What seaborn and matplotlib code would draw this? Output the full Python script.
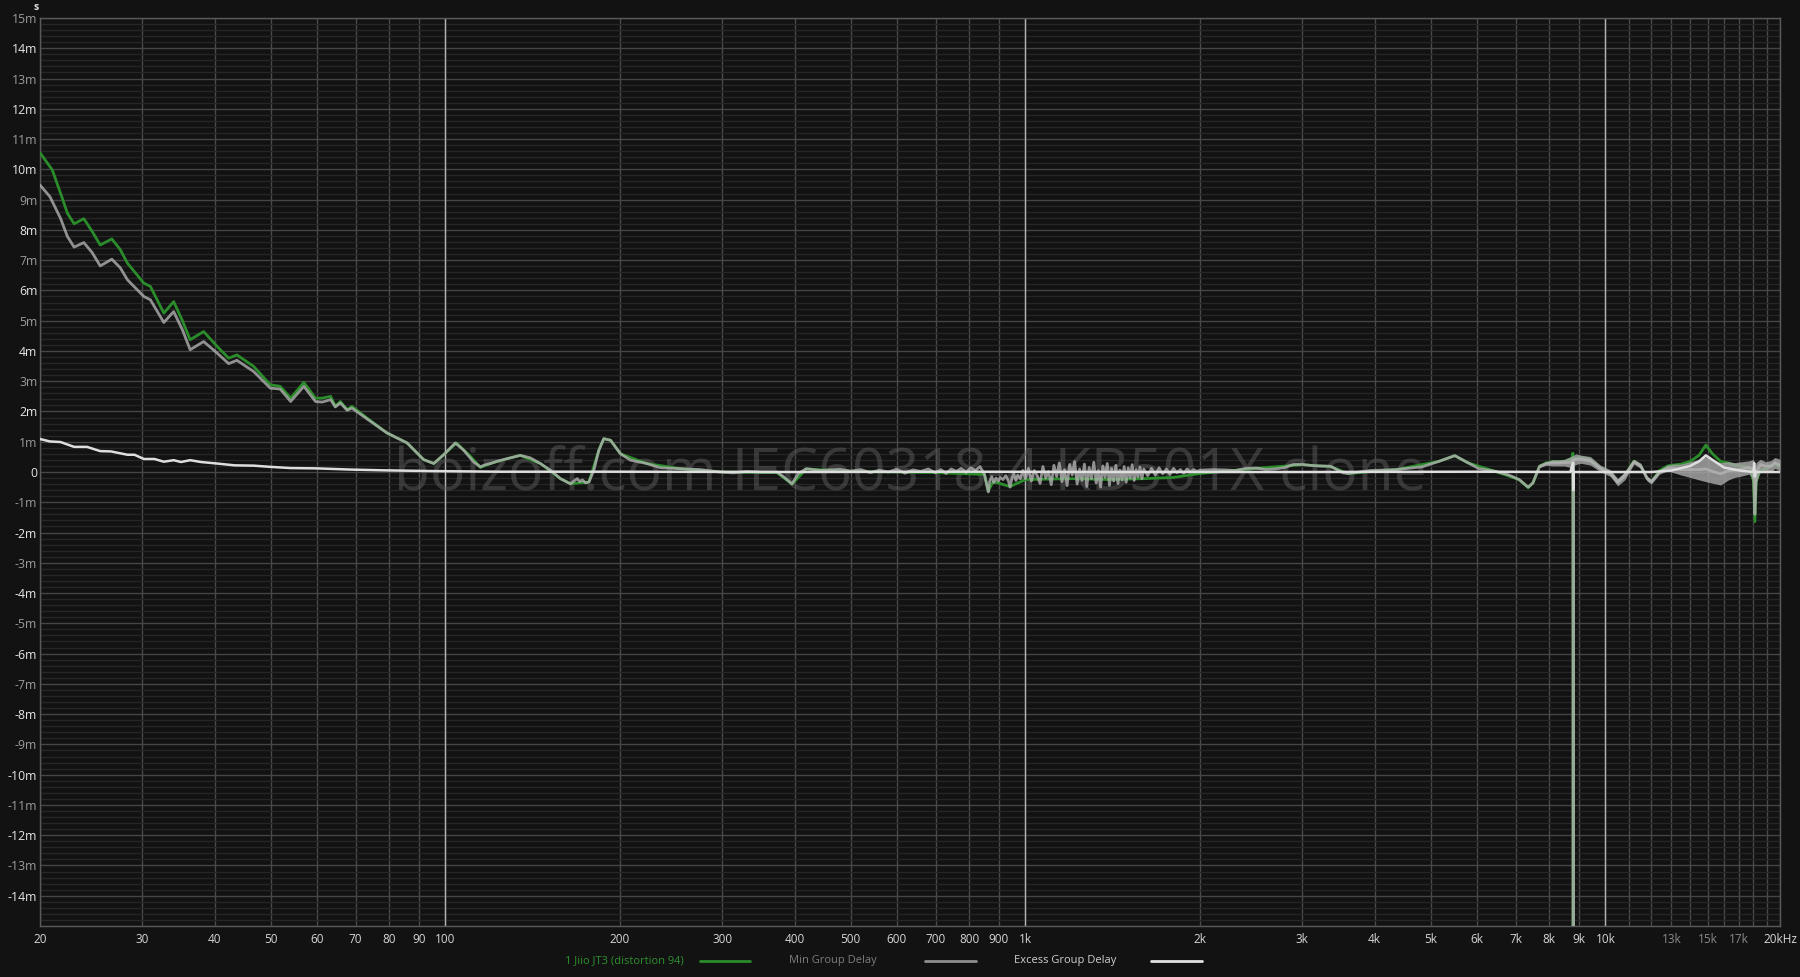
import matplotlib
matplotlib.use("Agg")
import matplotlib.pyplot as plt
from matplotlib.lines import Line2D
from matplotlib.ticker import NullFormatter, FixedLocator
import numpy as np
import pandas as pd
import seaborn as sns

# ---------------- data (values in milliseconds, frequency in Hz) ----------------
# total group delay (green), "1 Jiio JT3 (distortion 94)"
gd_freq_low = [20, 21.0, 21.7, 22.3, 22.9, 23.8, 24.6, 25.4, 26.6, 27.5,
               28.3, 30.2, 31.0, 32.7, 34.0, 35.2, 36.3, 38.3, 40.4, 42.3,
               43.7, 46.7, 49.9, 51.9, 54.1, 57.0, 59.7, 61.3, 63.4, 64.6,
               65.9, 67.7, 69.0, 73.3, 79.3, 85.9, 91.7, 95.5, 99.3, 104.5]
gd_ms_low = [10.55, 9.98, 9.21, 8.55, 8.20, 8.37, 7.95, 7.50, 7.70, 7.35,
             6.90, 6.24, 6.13, 5.25, 5.63, 5.00, 4.37, 4.64, 4.15, 3.76,
             3.87, 3.49, 2.88, 2.83, 2.44, 2.96, 2.44, 2.44, 2.50, 2.17,
             2.33, 2.06, 2.17, 1.78, 1.29, 0.96, 0.41, 0.28, 0.57, 0.96]
gd_freq_mid = [110.4, 114.9, 119.6, 127.8, 134.6, 145.8, 157.9, 164.3, 176.8, 183.9,
               187.5, 192.6, 200.4, 222.4, 254.2, 297.8, 373, 396, 419, 500,
               700, 850, 863, 880, 941, 1000, 1200, 1400, 1600, 1800,
               2000, 2500, 3000, 3357, 3600, 4360, 5160, 5500, 5800, 6460,
               7100, 7360, 7500]
gd_ms_mid = [0.52, 0.15, 0.28, 0.44, 0.55, 0.28, -0.22, -0.39, -0.33, 0.72,
             1.10, 1.05, 0.60, 0.28, 0.11, 0.00, -0.02, -0.40, 0.10, 0.02,
             -0.02, -0.08, -0.62, -0.32, -0.48, -0.25, -0.22, -0.25, -0.22, -0.18,
             -0.05, 0.12, 0.24, 0.18, -0.05, 0.08, 0.35, 0.54, 0.30, 0.02,
             -0.25, -0.52, -0.36]
gd_freq_high = [7700, 7900, 8100, 8500, 8750, 8790, 8800, 8812, 8900, 9060,
                9420, 9800, 10200, 10500, 10800, 11200, 11500, 11800, 12000, 12400,
                12800, 13100, 13500, 14000, 14500, 14900, 15300, 15800, 16300, 16700,
                17200, 17700, 18000, 18100, 18200, 18500, 18900, 19300, 19600, 20000]
gd_ms_high = [0.19, 0.30, 0.35, 0.35, 0.45, 0.62, -16.0, 0.45, 0.45, 0.48,
              0.42, 0.14, -0.02, -0.35, -0.10, 0.36, 0.22, -0.20, -0.33, 0.05,
              0.20, 0.23, 0.26, 0.35, 0.55, 0.89, 0.60, 0.35, 0.30, 0.22,
              0.20, 0.15, -0.30, -1.64, -0.30, 0.05, 0.10, 0.20, 0.30, 0.15]

# minimum-phase group delay (grey)
min_freq_low = [20, 20.8, 21.7, 22.3, 22.9, 23.8, 24.6, 25.4, 26.6, 27.5,
                28.3, 30.2, 31.0, 32.7, 34.0, 35.2, 36.3, 38.3, 40.4, 42.3,
                43.7, 46.7, 49.9, 51.9, 54.1, 57.0, 59.7, 61.3, 63.4, 64.6,
                65.9, 67.7, 69.0, 73.3]
min_ms_low = [9.48, 9.10, 8.38, 7.78, 7.43, 7.58, 7.25, 6.81, 7.03, 6.75,
              6.35, 5.80, 5.69, 4.94, 5.30, 4.70, 4.04, 4.31, 3.93, 3.58,
              3.69, 3.32, 2.77, 2.74, 2.33, 2.83, 2.33, 2.31, 2.39, 2.15,
              2.28, 2.04, 2.11, 1.75]
min_freq_mid = [79.3, 85.9, 91.7, 95.5, 99.3, 104.0, 107.5, 111.9, 114.9, 117,
                119.6, 123, 127.8, 134.6, 140.0, 145.8, 151.7, 157.9, 164.3, 166.5,
                168.8, 170.5, 172.2, 174.5, 176.8, 180.3, 183.9, 187.5, 192.6, 200.4,
                208.5, 222.4, 234.8, 254.2, 275.1, 297.8, 314, 330, 349, 373,
                383, 396, 406, 419, 442, 478, 500, 520, 540]
min_ms_mid = [1.29, 0.96, 0.41, 0.28, 0.57, 0.96, 0.72, 0.33, 0.17, 0.24,
              0.28, 0.36, 0.44, 0.55, 0.47, 0.28, 0.06, -0.22, -0.39, -0.30,
              -0.22, -0.32, -0.26, -0.36, -0.33, 0.06, 0.72, 1.10, 1.05, 0.60,
              0.39, 0.28, 0.14, 0.11, 0.08, 0.00, -0.03, 0.02, 0.00, 0.00,
              -0.16, -0.39, -0.05, 0.11, 0.05, 0.09, 0.03, 0.08, -0.02]
min_freq_n1 = [560, 580, 600, 620, 640, 660, 680, 700, 715, 730,
               745, 760, 775, 790, 805, 820, 835, 850, 858, 863,
               868, 875, 882, 890, 898, 905, 915, 925, 935, 941,
               948, 955, 963, 970, 980, 990]
min_ms_n1 = [0.06, 0.00, 0.09, -0.04, 0.07, 0.02, 0.10, -0.03, 0.08, -0.05,
             0.10, 0.02, 0.12, -0.02, 0.14, 0.05, 0.18, -0.08, -0.45, -0.66,
             -0.30, -0.15, -0.35, -0.20, -0.30, -0.18, -0.25, -0.12, -0.30, -0.50,
             -0.20, -0.05, -0.28, -0.10, -0.22, 0.05]
min_freq_n2 = [1000, 1012, 1024, 1036, 1048, 1060, 1072, 1084, 1096, 1108,
               1120, 1132, 1144, 1156, 1168, 1180, 1192, 1204, 1216, 1228,
               1240, 1252, 1264, 1276, 1288, 1300, 1312, 1324, 1336, 1348,
               1360, 1372, 1384, 1396, 1408, 1420, 1432, 1444, 1456, 1468,
               1480, 1492, 1504, 1516, 1528, 1540, 1552, 1564, 1576, 1588,
               1600, 1625, 1650, 1675, 1700, 1725, 1750, 1775, 1800, 1825,
               1850, 1875, 1900, 1925, 1950, 1975, 2000]
min_ms_n2 = [-0.22, 0.12, -0.30, 0.05, -0.12, -0.38, 0.18, -0.20, 0.02, -0.42,
             0.22, -0.15, 0.30, -0.32, 0.08, -0.45, 0.25, -0.10, 0.34, -0.40,
             0.10, -0.28, 0.26, -0.48, 0.15, -0.22, 0.32, -0.36, 0.05, -0.50,
             0.20, -0.18, 0.28, -0.44, 0.12, -0.30, 0.22, -0.38, 0.06, -0.26,
             0.18, -0.34, 0.14, -0.20, 0.24, -0.28, 0.08, -0.16, 0.16, -0.22,
             0.10, -0.12, 0.12, -0.10, 0.14, -0.06, 0.10, -0.08, 0.12, -0.02,
             0.08, -0.04, 0.10, 0.00, 0.08, 0.02, 0.06]
min_freq_high = [2100, 2200, 2300, 2400, 2500, 2600, 2700, 2800, 2900, 3000,
                 3100, 3200, 3357, 3530, 3600, 3930, 4360, 4830, 5160, 5500,
                 5800, 6050, 6460, 6800, 7100, 7360, 7500, 7700, 7900, 8100,
                 8300, 8500, 8700, 8790, 8800, 8810, 8900, 9060, 9420, 9800,
                 10200, 10500, 10800, 11200, 11500, 11800, 12000, 12400, 12800, 13100,
                 13500, 14000, 14500, 14900, 15300, 15800, 16300, 16700, 17200, 17700,
                 18000, 18100, 18200, 18500, 18900, 19300, 19600, 20000]
min_ms_high = [0.08, 0.07, 0.05, 0.12, 0.13, 0.08, 0.10, 0.15, 0.25, 0.25,
               0.22, 0.20, 0.19, -0.03, -0.05, 0.05, 0.08, 0.17, 0.35, 0.54,
               0.30, 0.11, 0.02, -0.09, -0.25, -0.50, -0.36, 0.19, 0.28, 0.30,
               0.30, 0.31, 0.32, 0.40, -16.0, 0.40, 0.42, 0.42, 0.37, 0.12,
               -0.04, -0.33, -0.12, 0.34, 0.20, -0.22, -0.32, 0.00, 0.13, 0.12,
               0.08, 0.08, 0.08, 0.10, 0.02, -0.06, 0.04, 0.06, 0.10, 0.15,
               0.08, -1.40, 0.00, 0.25, 0.19, 0.19, 0.30, 0.23]

# grey noise band of the min group delay above 7.7 kHz
band_freq = [7700, 7900, 8100, 8300, 8500, 8700, 8900, 9060, 9420, 9800,
             10200, 10500, 10800, 11200, 11500, 11800, 12000, 12400, 12800, 13100,
             13500, 14000, 14500, 14900, 15300, 15800, 16300, 16700, 17200, 17700,
             18000, 18100, 18200, 18500, 18900, 19300, 19600, 20000]
band_hi = [0.22, 0.33, 0.40, 0.40, 0.42, 0.50, 0.60, 0.56, 0.51, 0.23,
           0.07, -0.21, 0.01, 0.42, 0.29, -0.13, -0.24, 0.07, 0.23, 0.26,
           0.26, 0.34, 0.42, 0.51, 0.40, 0.31, 0.34, 0.31, 0.34, 0.37,
           0.42, 0.18, 0.32, 0.42, 0.34, 0.38, 0.48, 0.42]
band_lo = [0.14, 0.22, 0.20, 0.20, 0.20, 0.15, 0.25, 0.29, 0.23, 0.01,
           -0.15, -0.46, -0.26, 0.26, 0.12, -0.30, -0.40, -0.07, 0.04, -0.02,
           -0.10, -0.18, -0.26, -0.32, -0.37, -0.43, -0.26, -0.18, -0.13, -0.07,
           -0.26, -1.37, -0.37, 0.07, 0.04, 0.00, 0.12, 0.04]

# excess group delay (white)
exc_freq = [20, 20.8, 21.7, 22.9, 24.1, 25.4, 26.5, 28.3, 29.1, 30.2,
            31.5, 32.7, 34.0, 35.0, 36.3, 37.9, 40.4, 43.3, 46.7, 49.9,
            54.1, 59.9, 68.7, 78.3, 95.5, 124, 200, 400, 800, 1500,
            3000, 6000, 8700, 8790, 8800, 8810, 9000, 12000, 13000, 14000,
            14500, 14900, 15300, 16000, 17000, 18000, 18050, 18100, 18150, 19000,
            20000]
exc_ms = [1.09, 1.01, 0.99, 0.83, 0.83, 0.69, 0.68, 0.57, 0.57, 0.43,
          0.43, 0.34, 0.39, 0.33, 0.39, 0.33, 0.28, 0.22, 0.21, 0.17,
          0.13, 0.12, 0.08, 0.055, 0.03, 0.01, 0.01, 0.00, 0.01, 0.00,
          0.00, 0.01, 0.00, 0.30, -0.60, 0.00, 0.00, 0.00, 0.05, 0.20,
          0.35, 0.55, 0.40, 0.15, 0.05, 0.00, 0.30, -0.15, 0.00, 0.00,
          0.00]

# axis ticks and labels
x_ticks = [20, 30, 40, 50, 60, 70, 80, 90, 100, 200, 300, 400, 500, 600, 700, 800, 900,
           1000, 2000, 3000, 4000, 5000, 6000, 7000, 8000, 9000, 10000, 13000, 15000, 17000, 20000]
x_labels = ["20", "30", "40", "50", "60", "70", "80", "90", "100", "200", "300", "400", "500",
            "600", "700", "800", "900", "1k", "2k", "3k", "4k", "5k", "6k", "7k", "8k", "9k",
            "10k", "13k", "15k", "17k", "20kHz"]
x_dim_labels = ["13k", "15k", "17k"]
x_extra_grid = [11000, 12000, 14000, 16000, 18000, 19000]
x_decades = [100, 1000, 10000]
y_ticks = list(range(-14, 16))
y_labels = [("0" if v == 0 else f"{v}m") for v in y_ticks]

legend_names = ["1 Jiio JT3 (distortion 94)", "Min Group Delay", "Excess Group Delay"]
watermark = "boizoff.com IEC60318-4 KB501X clone"

# ---------------- styling ----------------
sns.set_theme(style="dark")
plt.rcParams["font.family"] = ["Open Sans", "DejaVu Sans"]

BG = "#121212"
GREEN = "#2a8c2a"
GREY = "#b4b4b4"
WHITE = "#dedede"
W, H = 1800, 977

fig = plt.figure(figsize=(W / 100, H / 100), dpi=100, facecolor=BG)
ax = fig.add_axes([40 / W, 1 - 926 / H, 1740 / W, 908 / H])
ax.set_facecolor(BG)

# curves
gd = pd.DataFrame({"f": gd_freq_low + gd_freq_mid + gd_freq_high,
                   "ms": gd_ms_low + gd_ms_mid + gd_ms_high})
mn = pd.DataFrame({"f": min_freq_low + min_freq_mid + min_freq_n1 + min_freq_n2 + min_freq_high,
                   "ms": min_ms_low + min_ms_mid + min_ms_n1 + min_ms_n2 + min_ms_high})
ex = pd.DataFrame({"f": exc_freq, "ms": exc_ms})

sns.lineplot(data=gd, x="f", y="ms", ax=ax, color=GREEN, lw=2.0, estimator=None, sort=False, zorder=3)
ax.fill_between(band_freq, band_lo, band_hi, color="#a8a8a8", alpha=0.82, lw=0, zorder=3.5)
sns.lineplot(data=mn, x="f", y="ms", ax=ax, color=GREY, lw=2.0, alpha=0.78, estimator=None, sort=False, zorder=4)
sns.lineplot(data=ex, x="f", y="ms", ax=ax, color=WHITE, lw=1.8, estimator=None, sort=False, zorder=5)

ax.set_xscale("log")
ax.set_xlim(20, 20000)
ax.set_ylim(-15, 15)
ax.set_xlabel("")
ax.set_ylabel("")

# ticks & grid (set after plotting so nothing resets them)
ax.xaxis.set_major_locator(FixedLocator(x_ticks))
ax.set_xticklabels(x_labels)
ax.xaxis.set_minor_locator(FixedLocator(x_extra_grid))
ax.xaxis.set_minor_formatter(NullFormatter())
ax.yaxis.set_major_locator(FixedLocator(y_ticks))
ax.set_yticklabels(y_labels)
ax.yaxis.set_minor_locator(FixedLocator([v / 5 for v in range(-75, 76)]))
ax.yaxis.set_minor_formatter(NullFormatter())
ax.grid(False)
ax.xaxis.grid(True, which="both", color="#4a4a4a", lw=1.0)
ax.yaxis.grid(True, which="minor", color="#262626", lw=1.0)
ax.yaxis.grid(True, which="major", color="#454545", lw=1.0)
ax.set_axisbelow(True)
for d in x_decades:
    ax.axvline(d, color="#b4b4b4", lw=1.0, zorder=0.8)

ax.tick_params(axis="both", which="both", length=0)
ax.tick_params(axis="x", pad=5, labelsize=8.5, labelcolor="#d6d6d6")
ax.tick_params(axis="y", pad=2, labelsize=8.8)
for t in ax.get_xticklabels():
    if t.get_text() in x_dim_labels:
        t.set_color("#8a8a8a")
for t, v in zip(ax.get_yticklabels(), y_ticks):
    t.set_color("#e6e6e6" if v % 2 == 0 else "#9c9c9c")
for s in ax.spines.values():
    s.set_color("#5a5a5a")
    s.set_linewidth(1.0)

# watermark
wm = ax.text(394 / W, 1 - 491 / H, watermark, transform=fig.transFigure,
             fontsize=50, color="#5c5c5c", alpha=0.5, ha="left", va="baseline", zorder=1)
fig.canvas.draw()
bb = wm.get_window_extent(fig.canvas.get_renderer())
wm.set_fontsize(50 * 1033 / bb.width)

# unit label
fig.text(36 / W, 1 - 8 / H, "s", ha="center", va="center", color="#e0e0e0", fontsize=7.5, weight="bold")

# legend (text first, then line sample)
leg_y = 1 - 961 / H
leg_items = [
    (legend_names[0], 624, "#2e8f2e", (700, 750), GREEN),
    (legend_names[1], 833, "#7c7c7c", (925, 976), "#8e8e8e"),
    (legend_names[2], 1065, "#cfcfcf", (1151, 1202), "#e2e2e2"),
]
for name, cx, tcol, (x0, x1), lcol in leg_items:
    fig.text(cx / W, leg_y, name, ha="center", va="center", color=tcol, fontsize=8)
    fig.add_artist(Line2D([x0 / W, x1 / W], [leg_y, leg_y], transform=fig.transFigure,
                          color=lcol, lw=2.0))

fig.savefig("out.png", dpi=100, facecolor=BG)
